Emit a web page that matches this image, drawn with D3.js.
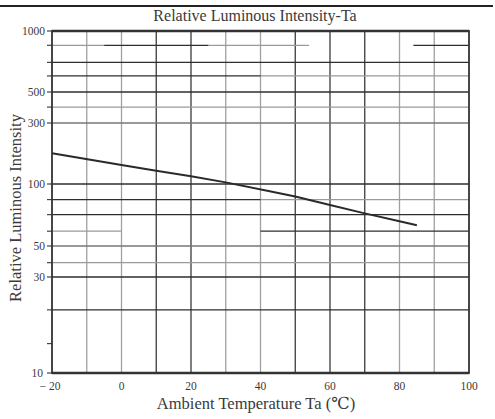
<!DOCTYPE html>
<html><head><meta charset="utf-8">
<script src="https://cdn.jsdelivr.net/npm/d3@7"></script>
<style>
html,body{margin:0;padding:0;background:#fff;}
svg{display:block;}
text{font-family:"Liberation Serif","DejaVu Serif",serif;fill:#3a3a3a;}
</style></head>
<body>
<script>
// ---- data ----
const xTicks = [-20, 0, 20, 40, 60, 80, 100];
const xGrid = [-10, 0, 10, 20, 30, 40, 50, 60, 70, 80, 90];
const xGridFaint = [-10, 0, 30, 40, 80, 90];
const yTickLabels = [10, 30, 50, 100, 300, 500, 1000];
const yTickOnly = [14];
// horizontal rules of the scanned grid: value, from-temp, to-temp
const yRulesDark = [[850, -5, 25], [850, 84, 100], [700, -20, 100], [600, -20, 40], [500, -20, 100],
  [100, -20, 100], [84, -20, 40], [71, -20, 100], [59, 40, 100], [30, -20, 100], [20.6, -20, 100]];
const yRulesFaint = [[850, -20, -5], [850, 25, 54], [600, 40, 100], [390, -20, 100], [300, -20, 100],
  [84, 40, 100], [59, -20, 0], [50, -20, 100], [38, -20, 100]];
const temps = [-20, 0, 10, 20, 30, 43, 50, 60, 70, 80, 85];
const intensity = [174, 141, 127, 115, 103, 92, 87, 79, 72, 66, 63];

(function () {
const W = 495, H = 419;
const svg = d3.select("body").append("svg").attr("width", W).attr("height", H);

const pL = 52, pR = 469, pT = 31, pB = 373;
const x = d3.scaleLinear().domain([-20, 100]).range([pL, pR]);
// datasheet axis is unevenly spaced: piecewise log scale through labelled values
const y = d3.scaleLog().domain([10, 30, 50, 100, 300, 500, 1000])
  .range([373, 277, 246, 184, 123, 92, 31]);

// page rule at top
svg.append("line").attr("x1", 0).attr("x2", 493).attr("y1", 6).attr("y2", 6)
  .attr("stroke", "#222").attr("stroke-width", 2);

// title
svg.append("text").attr("x", 255).attr("y", 21).attr("text-anchor", "middle")
  .attr("font-size", 16).text("Relative Luminous Intensity-Ta");

const g = svg.append("g");
const faintX = new Set(xGridFaint);
g.selectAll("line.vx").data(xGrid).enter().append("line")
  .attr("x1", d => x(d)).attr("x2", d => x(d)).attr("y1", pT).attr("y2", pB)
  .attr("stroke", d => faintX.has(d) ? "#a0a0a0" : "#3a3a3a")
  .attr("stroke-width", 1.3);

g.selectAll("line.hf").data(yRulesFaint).enter().append("line")
  .attr("x1", d => x(d[1])).attr("x2", d => x(d[2]))
  .attr("y1", d => y(d[0])).attr("y2", d => y(d[0]))
  .attr("stroke", d => d[0] === 50 || d[0] === 300 ? "#777" : "#9a9a9a")
  .attr("stroke-width", 1.3);
g.selectAll("line.hd").data(yRulesDark).enter().append("line")
  .attr("x1", d => x(d[1])).attr("x2", d => x(d[2]))
  .attr("y1", d => y(d[0])).attr("y2", d => y(d[0]))
  .attr("stroke", "#2e2e2e").attr("stroke-width", 1.3);

// left ticks
const tickVals = Array.from(new Set(yTickLabels.concat(yTickOnly, yRulesDark.map(d => d[0]), yRulesFaint.map(d => d[0]))));
g.selectAll("line.tk").data(tickVals).enter().append("line")
  .attr("x1", pL - 5).attr("x2", pL).attr("y1", d => y(d)).attr("y2", d => y(d))
  .attr("stroke", "#444").attr("stroke-width", 1.2);

// frame
g.append("rect").attr("x", pL).attr("y", pT).attr("width", pR - pL).attr("height", pB - pT)
  .attr("fill", "none").attr("stroke", "#333").attr("stroke-width", 1.8);
g.append("line").attr("x1", pL).attr("x2", pR).attr("y1", pB).attr("y2", pB)
  .attr("stroke", "#333").attr("stroke-width", 2.6);
g.append("line").attr("x1", pL).attr("x2", pR).attr("y1", pT).attr("y2", pT)
  .attr("stroke", "#333").attr("stroke-width", 2.4);

// y tick labels
svg.selectAll("text.yl").data(yTickLabels).enter().append("text")
  .attr("x", d => d === 10 ? 43 : pL - 7).attr("y", d => y(d) + 4)
  .attr("text-anchor", "end").attr("font-size", 11.5)
  .text(d => d);

// x tick labels
svg.selectAll("text.xl").data(xTicks).enter().append("text")
  .attr("x", d => x(d) + (d === -20 ? -2 : 0)).attr("y", 390)
  .attr("text-anchor", "middle").attr("font-size", 11.5)
  .text(d => d < 0 ? "\u2212 " + Math.abs(d) : d);

// axis titles
svg.append("text").attr("x", 256).attr("y", 409).attr("text-anchor", "middle")
  .attr("font-size", 16.5).text("Ambient Temperature Ta (\u2103)");
svg.append("text").attr("transform", "translate(21,208) rotate(-90)")
  .attr("text-anchor", "middle").attr("font-size", 16.5)
  .text("Relative Luminous Intensity");

// curve
const line = d3.line().x((d, i) => x(temps[i])).y(d => y(d));
svg.append("path").attr("d", line(intensity)).attr("fill", "none")
  .attr("stroke", "#2a2a2a").attr("stroke-width", 2);
})();
</script>
</body></html>
